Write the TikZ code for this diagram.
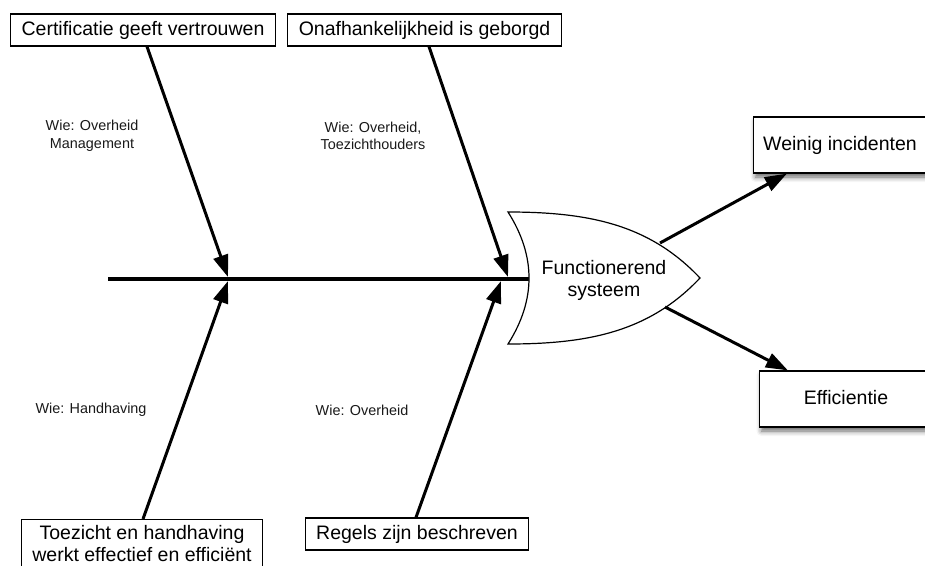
\documentclass[tikz,border=0pt]{standalone}
\usepackage{fontspec}
\setmainfont{Liberation Sans}
\usetikzlibrary{arrows.meta,shadows.blur}

\newcommand{\boxfont}{\fontsize{19.5pt}{22pt}\selectfont}
\newcommand{\lblfont}{\fontsize{14.4pt}{17.5pt}\selectfont}

\tikzset{
  cause/.style={draw, line width=1.2pt, fill=white, inner xsep=11pt, inner ysep=0pt,
    minimum height=32pt, text height=14pt, text depth=4pt, font=\boxfont},
  causetwo/.style={draw, line width=1.2pt, fill=white, inner xsep=11pt, inner ysep=6pt,
    font=\boxfont, align=center},
  effect/.style={draw, line width=1.2pt, fill=white, minimum width=173pt, minimum height=56pt,
    text height=14pt, text depth=4pt, font=\boxfont,
    blur shadow={shadow xshift=2pt, shadow yshift=-4pt, shadow blur radius=5pt, shadow opacity=60}},
  who/.style={font=\lblfont, align=center, text=black!90},
  bone/.style={line width=3pt, -{Triangle[length=22pt,width=15pt]}},
  spine/.style={line width=4pt},
  fish/.style={draw, line width=1.2pt, fill=white},
}

\begin{document}
\begin{tikzpicture}[x=1pt, y=-1pt]
  \useasboundingbox (0,0) rectangle (925,565);

  % cause boxes
  \node[cause] (cert) at (143,30) {Certificatie geeft vertrouwen};
  \node[cause] (onaf) at (424.5,30) {Onafhankelijkheid is geborgd};
  \node[causetwo, anchor=north] (toez) at (142,519) {Toezicht en handhaving\\werkt effectief en efficiënt};
  \node[cause] (regels) at (417,534) {Regels zijn beschreven};

  % who is responsible
  \node[who] (w1) at (92,136) {Wie: Overheid\\Management};
  \node[who] (w2) at (373,136) {Wie: Overheid,\\Toezichthouders};
  \node[who] (w3) at (91,410) {Wie: Handhaving};
  \node[who] (w4) at (362,410) {Wie: Overheid};

  % spine and the points where the bones meet it
  \coordinate (tail) at (108,279);
  \coordinate (spineend) at (529,279);
  \coordinate (j1t) at (228,277);
  \coordinate (j1b) at (228,281);
  \coordinate (j2t) at (508,277);
  \coordinate (j2b) at (501,281);
  \draw[spine] (tail) -- (spineend);

  % bones
  \draw[bone] ([xshift=4pt]cert.south) -- (j1t);
  \draw[bone] ([xshift=4.5pt]onaf.south) -- (j2t);
  \draw[bone] ([xshift=1pt]toez.north) -- (j1b);
  \draw[bone] ([xshift=-1pt]regels.north) -- (j2b);

  % fish head
  \draw[fish] (508,212) .. controls (590,212) and (650,225) .. (700,278)
              .. controls (650,331) and (590,344) .. (508,344)
              .. controls (536,300) and (536,256) .. (508,212) -- cycle;
  \node[font=\boxfont, align=center] (head) at (604,280) {Functionerend\\systeem};
  \coordinate (h1) at (660,243);
  \coordinate (h2) at (665,307);

  % effects
  \node[effect] (weinig) at (840,145) {Weinig incidenten};
  \node[effect] (effic) at (846,399) {Efficientie};
  \draw[bone] (h1) -- ([xshift=34pt]weinig.south west);
  \draw[bone] (h2) -- ([xshift=29pt]effic.north west);
\end{tikzpicture}
\end{document}
